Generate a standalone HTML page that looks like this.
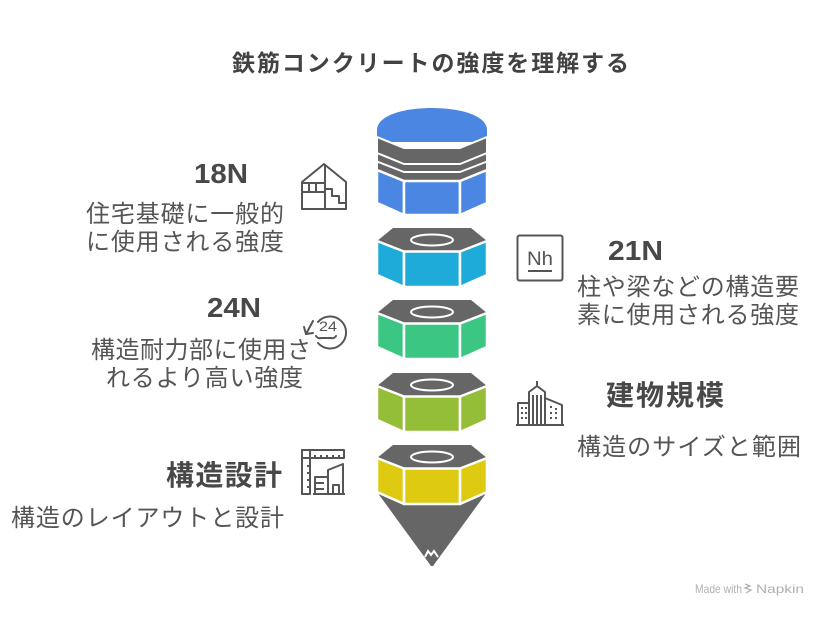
<!DOCTYPE html>
<html>
<head>
<meta charset="utf-8">
<style>
html,body{margin:0;padding:0;background:#fff;}
svg{display:block;}
.t{font-family:"Liberation Sans","Noto Sans CJK JP",sans-serif;}
</style>
</head>
<body>
<svg width="828" height="617" viewBox="0 0 828 617" xmlns="http://www.w3.org/2000/svg">
<rect width="828" height="617" fill="#fff"/>

<!-- Title -->
<text class="t" x="232" y="71" font-size="23" font-weight="700" fill="#424242" textLength="397" lengthAdjust="spacing">鉄筋コンクリートの強度を理解する</text>

<!-- ===== Top cylinder (blue) ===== -->
<g>
  <path d="M377,142 L377,130 C377,116 402,108 432,108 C462,108 487,116 487,130 L487,142 Z" fill="#4b87e2"/>
  <polygon points="377,137 404,148 460,148 487,137 487,170 460,181 404,181 377,170" fill="#666" stroke="#fff" stroke-width="2" stroke-linejoin="round"/>
  <polyline points="377,153 404,164 460,164 487,153" fill="none" stroke="#fff" stroke-width="2"/>
  <polyline points="377,161.5 404,172 460,172 487,161.5" fill="none" stroke="#fff" stroke-width="2"/>
  <g fill="#4b87e2" stroke="#fff" stroke-width="2.5" stroke-linejoin="round">
    <polygon points="377,170 404,181 404,215 377,203"/>
    <polygon points="404,181 460,181 460,215 404,215"/>
    <polygon points="460,181 487,170 487,203 460,215"/>
  </g>
</g>

<!-- ===== Nut cyan T=228 ===== -->
<g>
  <polygon points="393,228 471,228 487,241 460,251.5 404,251.5 377,241" fill="#666"/>
  <g fill="#1fabd9" stroke="#fff" stroke-width="2.5" stroke-linejoin="round">
    <polygon points="377,241 404,251.5 404,287 377,275"/>
    <polygon points="404,251.5 460,251.5 460,287 404,287"/>
    <polygon points="460,251.5 487,241 487,275 460,287"/>
  </g>
  <ellipse cx="432" cy="240" rx="21" ry="5.5" fill="none" stroke="#fff" stroke-width="2"/>
</g>

<!-- ===== Nut green T=300 ===== -->
<g>
  <polygon points="393,300 471,300 487,313 460,323.5 404,323.5 377,313" fill="#666"/>
  <g fill="#3cc683" stroke="#fff" stroke-width="2.5" stroke-linejoin="round">
    <polygon points="377,313 404,323.5 404,359 377,347"/>
    <polygon points="404,323.5 460,323.5 460,359 404,359"/>
    <polygon points="460,323.5 487,313 487,347 460,359"/>
  </g>
  <ellipse cx="432" cy="312" rx="21" ry="5.5" fill="none" stroke="#fff" stroke-width="2"/>
</g>

<!-- ===== Nut lime T=373 ===== -->
<g>
  <polygon points="393,373 471,373 487,386 460,396.5 404,396.5 377,386" fill="#666"/>
  <g fill="#94be37" stroke="#fff" stroke-width="2.5" stroke-linejoin="round">
    <polygon points="377,386 404,396.5 404,432 377,420"/>
    <polygon points="404,396.5 460,396.5 460,432 404,432"/>
    <polygon points="460,396.5 487,386 487,420 460,432"/>
  </g>
  <ellipse cx="432" cy="385" rx="21" ry="5.5" fill="none" stroke="#fff" stroke-width="2"/>
</g>

<!-- ===== Cone + Nut yellow T=445 ===== -->
<g>
  <polygon points="377,458 487,458 487,492 433,566 431,566 377,492" fill="#666"/>
  <polygon points="393,445 471,445 487,458 460,468.5 404,468.5 377,458" fill="#666"/>
  <g fill="#dfca12" stroke="#fff" stroke-width="2.5" stroke-linejoin="round">
    <polygon points="377,458 404,468.5 404,504 377,492"/>
    <polygon points="404,468.5 460,468.5 460,504 404,504"/>
    <polygon points="460,468.5 487,458 487,492 460,504"/>
  </g>
  <ellipse cx="432" cy="457" rx="21" ry="5.5" fill="none" stroke="#fff" stroke-width="2"/>
  <polyline points="425,557 428,551 431,555 434,551 438,557" fill="none" stroke="#fff" stroke-width="2"/>
</g>

<!-- ===== Left texts ===== -->
<text class="t" x="194" y="183" font-size="28" font-weight="700" fill="#484848" textLength="54" lengthAdjust="spacingAndGlyphs">18N</text>
<text class="t" x="86" y="222" font-size="24" fill="#555" textLength="198" lengthAdjust="spacing">住宅基礎に一般的</text>
<text class="t" x="86" y="250" font-size="24" fill="#555" textLength="198" lengthAdjust="spacing">に使用される強度</text>

<text class="t" x="207" y="317" font-size="28" font-weight="700" fill="#484848" textLength="54" lengthAdjust="spacingAndGlyphs">24N</text>
<text class="t" x="91" y="358" font-size="24" fill="#555" textLength="220" lengthAdjust="spacing">構造耐力部に使用さ</text>
<text class="t" x="106" y="386" font-size="24" fill="#555" textLength="197" lengthAdjust="spacing">れるより高い強度</text>

<text class="t" x="166" y="485" font-size="28" font-weight="700" fill="#484848" textLength="116" lengthAdjust="spacing">構造設計</text>
<text class="t" x="11" y="526" font-size="24" fill="#555" textLength="273" lengthAdjust="spacing">構造のレイアウトと設計</text>

<!-- ===== Right texts ===== -->
<text class="t" x="608" y="260" font-size="28" font-weight="700" fill="#484848" textLength="55" lengthAdjust="spacingAndGlyphs">21N</text>
<text class="t" x="577" y="295" font-size="24" fill="#555" textLength="222" lengthAdjust="spacing">柱や梁などの構造要</text>
<text class="t" x="577" y="323" font-size="24" fill="#555" textLength="222" lengthAdjust="spacing">素に使用される強度</text>

<text class="t" x="606" y="405" font-size="28" font-weight="700" fill="#484848" textLength="118" lengthAdjust="spacing">建物規模</text>
<text class="t" x="577" y="455" font-size="24" fill="#555" textLength="224" lengthAdjust="spacing">構造のサイズと範囲</text>

<!-- ===== Icons ===== -->
<!-- House -->
<g fill="none" stroke="#555" stroke-width="2" stroke-linejoin="round">
  <polygon points="302,209 302,182 324,164 346,182 346,209"/>
  <line x1="325" y1="165" x2="325" y2="209"/>
  <line x1="302" y1="183" x2="325" y2="183"/>
  <line x1="302" y1="192" x2="325" y2="192"/>
  <line x1="309" y1="183" x2="309" y2="192"/>
  <line x1="316" y1="183" x2="316" y2="192"/>
  <polyline points="325,189 332,189 332,196 339,196 339,203 346,203"/>
</g>

<!-- Nh -->
<g>
  <rect x="517.5" y="235.5" width="45" height="45" rx="2" fill="none" stroke="#555" stroke-width="2"/>
  <text class="t" x="527" y="265" font-size="19" fill="#555" textLength="26" lengthAdjust="spacingAndGlyphs">Nh</text>
  <line x1="528" y1="271" x2="552" y2="271" stroke="#555" stroke-width="2"/>
</g>

<!-- 24 icon -->
<g fill="none" stroke="#555" stroke-width="2" stroke-linecap="round" stroke-linejoin="round">
  <path d="M318,322 A16,16 0 1 1 318,343"/>
  <line x1="313" y1="321" x2="306" y2="334"/>
  <polyline points="304,327 306,334 313,333"/>
  <path d="M316,336 q2,3 5,2 h10 q3,1 5,-2"/>
</g>
<text class="t" x="319" y="331" font-size="14" fill="#555" textLength="18" lengthAdjust="spacingAndGlyphs">24</text>

<!-- Buildings -->
<g fill="none" stroke="#555" stroke-width="2" stroke-linejoin="round">
  <line x1="537" y1="381" x2="537" y2="386"/>
  <polyline points="529,425 529,392 537,386 545,392 545,425"/>
  <line x1="533" y1="395" x2="533" y2="425"/>
  <line x1="537" y1="395" x2="537" y2="425"/>
  <line x1="541" y1="395" x2="541" y2="425"/>
  <polyline points="529,403 518,403 518,425"/>
  <polyline points="545,398 562,405 562,425"/>
  <line x1="516" y1="425" x2="564" y2="425"/>
</g>
<g fill="#555">
  <rect x="521" y="407" width="2" height="2"/><rect x="525" y="407" width="2" height="2"/>
  <rect x="521" y="412" width="2" height="2"/><rect x="525" y="412" width="2" height="2"/>
  <rect x="521" y="417" width="2" height="2"/><rect x="525" y="417" width="2" height="2"/>
  <rect x="550" y="406" width="2" height="2"/><rect x="555" y="408" width="2" height="2"/>
  <rect x="550" y="412" width="2" height="2"/><rect x="555" y="412" width="2" height="2"/>
  <rect x="550" y="417" width="2" height="2"/><rect x="555" y="417" width="2" height="2"/>
</g>

<!-- Blueprint -->
<g fill="none" stroke="#555" stroke-width="2" stroke-linejoin="round">
  <rect x="302" y="450" width="42" height="8"/>
  <rect x="302" y="450" width="8" height="44"/>
  <line x1="315" y1="458" x2="315" y2="455"/>
  <line x1="321" y1="458" x2="321" y2="455"/>
  <line x1="327" y1="458" x2="327" y2="455"/>
  <line x1="333" y1="458" x2="333" y2="455"/>
  <line x1="339" y1="458" x2="339" y2="455"/>
  <line x1="310" y1="466" x2="307" y2="466"/>
  <line x1="310" y1="473" x2="307" y2="473"/>
  <line x1="310" y1="480" x2="307" y2="480"/>
  <line x1="310" y1="487" x2="307" y2="487"/>
  <polyline points="315,494 315,477 328,477"/>
  <line x1="315" y1="483" x2="324" y2="483"/>
  <line x1="315" y1="489" x2="324" y2="489"/>
  <polyline points="328,494 328,470 343,464 343,494"/>
  <rect x="333" y="485" width="6" height="9"/>
  <line x1="313" y1="494" x2="345" y2="494"/>
</g>

<!-- Made with Napkin -->
<text class="t" x="695" y="593" font-size="12" fill="#b0b0b0" textLength="47" lengthAdjust="spacingAndGlyphs">Made with</text>
<g stroke="#b0b0b0" stroke-width="1.3" fill="none">
  <polyline points="745,584 750,586 745,588 751,590 746,593"/>
</g>
<text class="t" x="756" y="593" font-size="12" fill="#b0b0b0" textLength="48" lengthAdjust="spacingAndGlyphs">Napkin</text>
</svg>
</body>
</html>
